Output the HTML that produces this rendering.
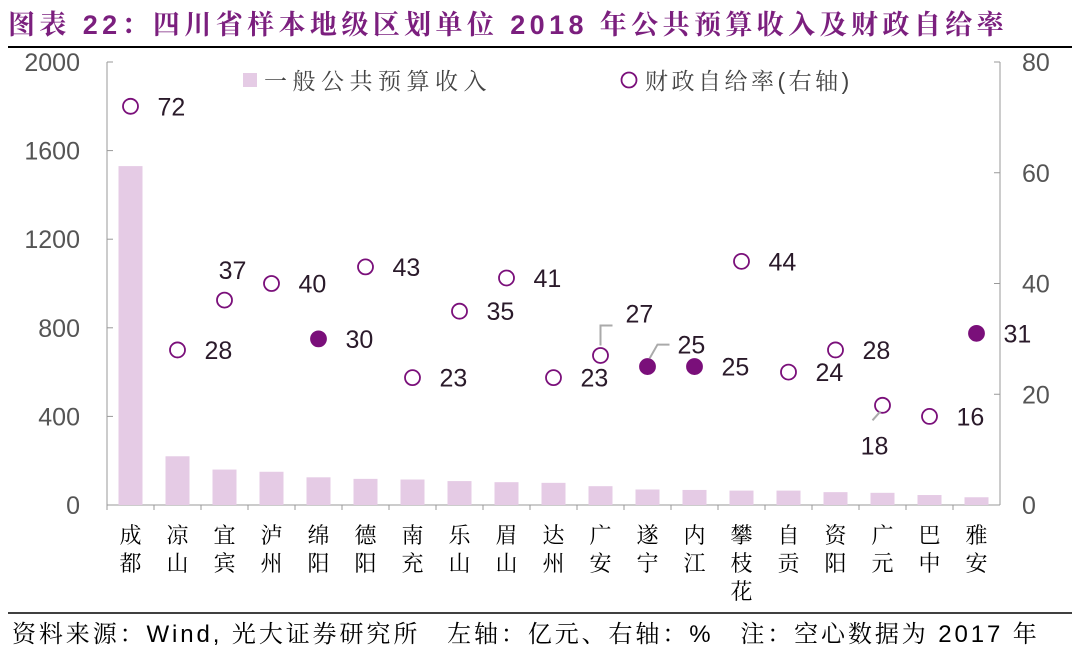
<!DOCTYPE html>
<html><head><meta charset="utf-8"><style>
body{margin:0;background:#fff;width:1080px;height:660px;overflow:hidden}
svg{display:block}
</style></head><body>
<svg id="c" width="1080" height="660" xmlns="http://www.w3.org/2000/svg">
<text x="8" y="34" font-family="Liberation Sans, Noto Serif CJK SC, sans-serif" font-size="27" font-weight="bold" letter-spacing="4.4" fill="#7b1f7e">图表 22：四川省样本地级区划单位 2018 年公共预算收入及财政自给率</text>
<line x1="8" y1="47" x2="1072" y2="47" stroke="#000" stroke-width="2"/>
<line x1="8" y1="613" x2="1072" y2="613" stroke="#000" stroke-width="1.5"/>
<text x="12" y="642" font-family="Liberation Sans, Noto Serif CJK SC, sans-serif" font-size="24" letter-spacing="2.9" fill="#000">资料来源：Wind, 光大证券研究所　左轴：亿元、右轴：%　注：空心数据为 2017 年</text>
<g id="plot"></g>
</svg>
<script>
const categories=["成都","凉山","宜宾","泸州","绵阳","德阳","南充","乐山","眉山","达州","广安","遂宁","内江","攀枝花","自贡","资阳","广元","巴中","雅安"];
const revenue=[1530,220,160,150,125,118,115,108,103,100,85,70,68,65,65,58,55,45,35];
const ratio=[72,28,37,40,30,43,23,35,41,23,27,25,25,44,24,28,18,16,31];
const filled=[0,0,0,0,1,0,0,0,0,0,0,1,1,0,0,0,0,0,1];
const leftTicks=[0,400,800,1200,1600,2000];
const rightTicks=[0,20,40,60,80];
// label placement offsets (layout, not data)
const lblOff=[[27,0],[27,0],[8,-30,"middle"],[27,0],[27,0],[27,0],[27,0],[27,0],[27,0],[27,0],[25,-42],[30,-22],[27,0],[27,0],[27,0],[27,0],[-8,40,"middle"],[27,0],[27,0]];
const X0=107,X1=1000,Y0=505,Y1=62;
const bw=(X1-X0)/categories.length;
const xs=i=>X0+bw*(i+0.5);
const yl=v=>Y0-(v/2000)*(Y0-Y1);
const yr=v=>Y0-(v/80)*(Y0-Y1);
const g=document.getElementById('plot');
const NS="http://www.w3.org/2000/svg";
function mk(t,a){const e=document.createElementNS(NS,t);for(const k in a)e.setAttribute(k,a[k]);g.appendChild(e);return e;}
const F="Liberation Sans, Noto Sans CJK SC, sans-serif";
let e=mk('line',{x1:X0,y1:Y1,x2:X0,y2:Y0,stroke:'#999','stroke-width':1});


e=mk('line',{x1:X1,y1:Y1,x2:X1,y2:Y0,stroke:'#999','stroke-width':1});


e=mk('line',{x1:X0,y1:Y0,x2:X1,y2:Y0,stroke:'#999','stroke-width':1});


leftTicks.forEach(v=>{
 mk('line',{x1:X0,y1:yl(v),x2:X0+6,y2:yl(v),stroke:'#999'});
 const t=mk('text',{x:80,y:yl(v)+9,'text-anchor':'end','font-family':F,'font-size':25,fill:'#555'});t.textContent=v;
 
 
});
rightTicks.forEach(v=>{
 mk('line',{x1:X1-6,y1:yr(v),x2:X1,y2:yr(v),stroke:'#999'});
 const t=mk('text',{x:1022,y:yr(v)+9,'font-family':F,'font-size':25,fill:'#555'});t.textContent=v;
 
 
});
categories.forEach((c,i)=>{
 const b=mk('rect',{x:xs(i)-12,y:yl(revenue[i]),width:24,height:Y0-yl(revenue[i]),fill:'#e5cbe5'});
 
 
 mk('line',{x1:X0+bw*i,y1:Y0,x2:X0+bw*i,y2:Y0+5,stroke:'#999'});
 [...c].forEach((ch,k)=>{
  const t=mk('text',{x:xs(i),y:Y0+38+k*28,'text-anchor':'middle','font-family':'Noto Serif CJK SC, serif','font-size':22,fill:'#000'});t.textContent=ch;
  
  
 });
});
ratio.forEach((v,i)=>{
 const cx=xs(i),cy=yr(v);
 const p=mk('circle',{cx:cx,cy:cy,r:7.5,fill:filled[i]?'#7a0f7a':'#fff',stroke:'#7a0f7a','stroke-width':1.8});
 
 
 const o=lblOff[i];
 if(i==10){mk('polyline',{points:`${cx},${cy-10} ${cx},${cy-30} ${cx+12},${cy-30}`,fill:'none',stroke:'#aaa','stroke-width':2});}
 if(i==11){mk('polyline',{points:`${cx+2},${cy-8} ${cx+10},${cy-22} ${cx+22},${cy-22}`,fill:'none',stroke:'#aaa','stroke-width':2});}
 if(i==16){mk('line',{x1:cx-2,y1:cy+6,x2:cx-10,y2:cy+15,stroke:'#aaa','stroke-width':2});}
 const t=mk('text',{x:cx+o[0],y:cy+o[1]+9,'text-anchor':o[2]||'start','font-family':F,'font-size':25,fill:'#2a1a2a'});t.textContent=v;
 
 
});
e=mk('rect',{x:243,y:73,width:14,height:14,fill:'#e5cbe5'});


e=mk('text',{x:264,y:89,'font-family':'Noto Serif CJK SC, serif','font-size':23,'letter-spacing':5.5,fill:'#444'});e.textContent='一般公共预算收入';


e=mk('circle',{cx:629,cy:80,r:7.5,fill:'#fff',stroke:'#7a0f7a','stroke-width':1.8});


e=mk('text',{x:645,y:89,'font-family':'Liberation Sans, Noto Serif CJK SC, serif','font-size':23,'letter-spacing':3.5,fill:'#444'});e.textContent='财政自给率(右轴)';


</script>
</body></html>
